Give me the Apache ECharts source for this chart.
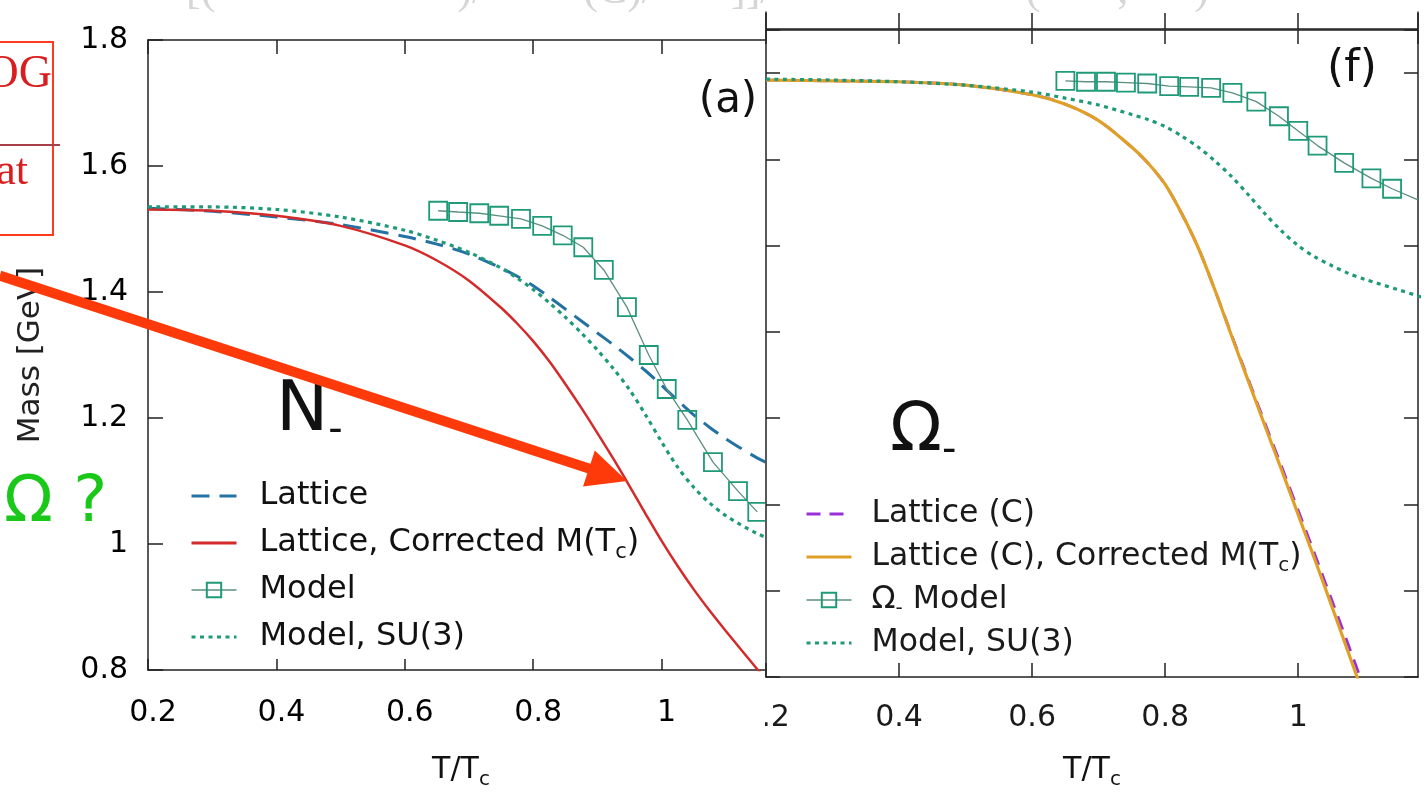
<!DOCTYPE html>
<html>
<head>
<meta charset="utf-8">
<title>N- and Omega- masses vs T/Tc</title>
<script src="https://cdn.jsdelivr.net/npm/echarts@6/dist/echarts.min.js"></script>
<style>
  html, body { margin: 0; padding: 0; background: #fff; }
  #main { width: 1428px; height: 795px; }
</style>
</head>
<body>
<div id="main"></div>
<script>
// T/Tc points used for the smooth curves
const tCurve = [0.2, 0.3, 0.4, 0.5, 0.6, 0.65, 0.7, 0.75, 0.775, 0.8, 0.825, 0.85, 0.875, 0.9, 0.925, 0.95, 0.975, 1.0, 1.025, 1.05, 1.075, 1.1, 1.15, 1.2]

// panel (a): N-
const nLattice     = [1.533, 1.528, 1.519, 1.507, 1.488, 1.476, 1.460, 1.438, 1.425, 1.410, 1.392, 1.373, 1.354, 1.335, 1.316, 1.296, 1.275, 1.252, 1.228, 1.205, 1.185, 1.167, 1.136, 1.112]
const nLatticeCorr = [1.531, 1.529, 1.521, 1.505, 1.474, 1.450, 1.418, 1.375, 1.350, 1.322, 1.290, 1.254, 1.216, 1.176, 1.135, 1.092, 1.048, 1.005, 0.965, 0.928, 0.894, 0.862, 0.800, 0.740]
const nModelSU3    = [1.535, 1.535, 1.531, 1.519, 1.498, 1.482, 1.463, 1.438, 1.422, 1.404, 1.383, 1.360, 1.335, 1.308, 1.278, 1.245, 1.205, 1.162, 1.122, 1.090, 1.065, 1.045, 1.016, 0.996]
const nModelT = [0.652, 0.683, 0.716, 0.747, 0.781, 0.814, 0.846, 0.878, 0.910, 0.946, 0.980, 1.008, 1.040, 1.080, 1.119, 1.149]
const nModelM = [1.529, 1.527, 1.525, 1.521, 1.516, 1.505, 1.490, 1.471, 1.435, 1.376, 1.300, 1.246, 1.197, 1.130, 1.084, 1.051]

// panel (f): Omega-
const omLattice     = [1.692, 1.691, 1.690, 1.686, 1.675, 1.664, 1.645, 1.614, 1.595, 1.571, 1.537, 1.497, 1.448, 1.396, 1.345, 1.294, 1.244, 1.193, 1.142, 1.090, 1.038, 0.985, 0.876, 0.766]
const omLatticeCorr = [1.692, 1.691, 1.690, 1.686, 1.675, 1.664, 1.645, 1.614, 1.595, 1.571, 1.537, 1.497, 1.448, 1.395, 1.343, 1.291, 1.240, 1.188, 1.136, 1.083, 1.029, 0.975, 0.865, 0.755]
const omModelSU3    = [1.693, 1.692, 1.690, 1.686, 1.678, 1.671, 1.663, 1.652, 1.646, 1.638, 1.627, 1.614, 1.598, 1.580, 1.559, 1.537, 1.517, 1.500, 1.487, 1.477, 1.468, 1.461, 1.449, 1.437]
const omModelT = [0.650, 0.681, 0.711, 0.741, 0.773, 0.806, 0.836, 0.869, 0.901, 0.937, 0.971, 1.000, 1.029, 1.069, 1.110, 1.141]
const omModelM = [1.691, 1.690, 1.690, 1.689, 1.688, 1.685, 1.684, 1.683, 1.677, 1.667, 1.650, 1.633, 1.616, 1.596, 1.578, 1.566]
const omModelTail = [1.18, 1.553]

const FONT = 'DejaVu Sans'
const pair = (xs, ys) => xs.map((x, i) => [x, ys[i]])

// legend texts (with subscripts)
const legendText = {
  'Lattice, Corrected M(Tc)': 'Lattice, Corrected M(T{s|c})',
  'Lattice (C), Corrected M(Tc)': 'Lattice (C), Corrected M(T{s|c})',
  'Omega Model': 'Ω{s|-} Model',
  'Model, SU(3) [Omega]': 'Model, SU(3)'
}

const chart = echarts.init(document.getElementById('main'))

function axis(o) {
  return Object.assign({
    type: 'value',
    splitLine: { show: false },
    axisLine: { show: true, onZero: false, lineStyle: { color: '#222', width: 1.5 } },
    axisTick: { show: true, inside: true, length: 14, lineStyle: { color: '#222', width: 1.5 } },
    axisLabel: { show: false },
    axisPointer: { show: false }
  }, o)
}
const tickLabel = { show: true, fontSize: 30, fontFamily: FONT, color: '#000', margin: 28 }
const nameStyle = {
  fontSize: 30, fontFamily: FONT, color: '#111', lineHeight: 40,
  rich: { s: { fontSize: 20, fontFamily: FONT, color: '#111', lineHeight: 22, verticalAlign: 'bottom' } }
}

// curves without markers: hide the legend marker, keep the legend line
const curve = (name, xi, yi, data, color, width, type, zl) => ({
  name, type: 'line', xAxisIndex: xi, yAxisIndex: yi, data,
  smooth: 0.3, symbol: 'none', silent: true,
  lineStyle: { color, width, type },
  itemStyle: { color, opacity: 0 },
  zlevel: zl, z: 3
})

const options = {
  animation: false,
  grid: [
    { left: 148, top: 40, width: 642, height: 630, outerBoundsMode: 'none' },
    { left: 766, top: 30, width: 652, height: 647, outerBoundsMode: 'none' },
    // bottom edge of the panel above (f)
    { left: 766, top: 12, width: 652, height: 17, outerBoundsMode: 'none' }
  ],
  xAxis: [
    axis({ gridIndex: 0, position: 'bottom', min: 0.2, max: 1.2, interval: 0.2,
      axisTick: { show: true, inside: true, length: 11, lineStyle: { color: '#222', width: 1.5 } },
      axisLabel: Object.assign({}, tickLabel, { padding: [0, 0, 0, 10] }),
      name: 'T/T{s|c}', nameLocation: 'middle', nameGap: 80,
      nameTextStyle: Object.assign({}, nameStyle, { padding: [0, 16, 0, 0] }) }),
    axis({ gridIndex: 0, position: 'top', min: 0.2, max: 1.2, interval: 0.2 }),
    axis({ gridIndex: 1, position: 'bottom', min: 0.2, max: 1.18, interval: 0.2,
      axisLabel: Object.assign({}, tickLabel, { color: '#1a1a1a', margin: 26, showMaxLabel: false }),
      name: 'T/T{s|c}', nameLocation: 'middle', nameGap: 73, nameTextStyle: nameStyle,
      zlevel: 1, z: 2 }),
    axis({ gridIndex: 1, position: 'top', min: 0.2, max: 1.18, interval: 0.2, zlevel: 1, z: 2 }),
    axis({ gridIndex: 2, position: 'bottom', min: 0.2, max: 1.18, interval: 0.2,
      axisTick: { show: true, inside: true, length: 16, lineStyle: { color: '#222', width: 1.5 } },
      zlevel: 1, z: 2 })
  ],
  yAxis: [
    axis({ gridIndex: 0, position: 'left', min: 0.8, max: 1.8, interval: 0.2,
      axisTick: { show: true, inside: true, length: 15, lineStyle: { color: '#222', width: 1.5 } },
      axisLabel: Object.assign({}, tickLabel, { margin: 20 }),
      name: 'Mass [GeV]', nameLocation: 'middle', nameGap: 102,
      nameTextStyle: { fontSize: 31, fontFamily: FONT, color: '#222' } }),
    axis({ gridIndex: 1, position: 'left', min: 1.0, max: 1.75, interval: 0.1, zlevel: 1, z: 2 }),
    axis({ gridIndex: 1, position: 'right', min: 1.0, max: 1.75, interval: 0.1, zlevel: 1, z: 2 }),
    axis({ gridIndex: 2, position: 'left', min: 0, max: 1, axisTick: { show: false }, zlevel: 1, z: 2 }),
    axis({ gridIndex: 2, position: 'right', min: 0, max: 1, axisTick: { show: false }, zlevel: 1, z: 2 })
  ],
  legend: [
    {
      data: [
        { name: 'Lattice', lineStyle: { width: 3 } },
        { name: 'Lattice, Corrected M(Tc)', lineStyle: { width: 3 } },
        { name: 'Model', lineStyle: { width: 1.5 } },
        { name: 'Model, SU(3)', lineStyle: { width: 3 } }
      ],
      orient: 'vertical', left: 190, top: 476, padding: 0,
      itemWidth: 45, itemHeight: 18, itemGap: 7, selectedMode: false,
      formatter: name => legendText[name] || name,
      textStyle: {
        fontSize: 32, fontFamily: FONT, color: '#111', lineHeight: 40, padding: [0, 0, 0, 18],
        rich: { s: { fontSize: 21, fontFamily: FONT, color: '#111', lineHeight: 22, verticalAlign: 'bottom' } }
      }
    },
    {
      data: [
        { name: 'Lattice (C)', lineStyle: { width: 3 } },
        { name: 'Lattice (C), Corrected M(Tc)', lineStyle: { width: 3 } },
        { name: 'Omega Model', lineStyle: { width: 1.5 } },
        { name: 'Model, SU(3) [Omega]', lineStyle: { width: 3 } }
      ],
      orient: 'vertical', left: 805, top: 495, padding: 0,
      itemWidth: 45, itemHeight: 18, itemGap: 5, selectedMode: false,
      zlevel: 1, z: 6,
      formatter: name => legendText[name] || name,
      textStyle: {
        fontSize: 31.5, fontFamily: FONT, color: '#1a1a1a', lineHeight: 38, padding: [0, 0, 0, 15],
        rich: { s: { fontSize: 20, fontFamily: FONT, color: '#1a1a1a', lineHeight: 21, verticalAlign: 'bottom' } }
      }
    }
  ],
  series: [
    // (a)
    curve('Lattice', 0, 0, pair(tCurve, nLattice), '#2471a3', 3, [18, 10], 0),
    curve('Lattice, Corrected M(Tc)', 0, 0, pair(tCurve, nLatticeCorr), '#d42a2a', 2.5, 'solid', 0),
    {
      name: 'Model', type: 'line', xAxisIndex: 0, yAxisIndex: 0,
      data: pair(nModelT, nModelM), symbol: 'rect', symbolSize: 18, silent: true,
      lineStyle: { color: '#5b8f80', width: 1.3 },
      itemStyle: { color: 'rgba(255,255,255,0)', borderColor: '#1f9a78', borderWidth: 1.8 },
      z: 4
    },
    curve('Model, SU(3)', 0, 0, pair(tCurve, nModelSU3), '#1f9a78', 3.2, [4, 4.5], 0),
    // (f)
    curve('Lattice (C)', 2, 1, pair(tCurve, omLattice), '#9b30d9', 2.8, [14, 9], 1),
    curve('Lattice (C), Corrected M(Tc)', 2, 1, pair(tCurve, omLatticeCorr), '#e0a028', 3.2, 'solid', 1),
    {
      name: 'Omega Model', type: 'line', xAxisIndex: 2, yAxisIndex: 1,
      data: pair(omModelT, omModelM).concat([{ value: omModelTail, symbol: 'none' }]),
      symbol: 'rect', symbolSize: 18, silent: true,
      lineStyle: { color: '#5b8f80', width: 1.3 },
      itemStyle: { color: 'rgba(255,255,255,0)', borderColor: '#1f9a78', borderWidth: 1.8 },
      zlevel: 1, z: 4
    },
    curve('Model, SU(3) [Omega]', 2, 1, pair(tCurve, omModelSU3), '#1f9a78', 3.2, [4, 4.5], 1)
  ],
  graphic: {
    elements: [
      // panel (f) is pasted over the right part of panel (a)
      { id: 'fBack', type: 'rect', shape: { x: 765, y: 12, width: 663, height: 783 },
        style: { fill: '#fff' }, zlevel: 1, z: 0, silent: true },
      { id: 'fCut', type: 'rect', shape: { x: 730, y: 686, width: 35, height: 52 },
        style: { fill: '#fff' }, zlevel: 2, z: 0, silent: true },
      // faint cut-off formula at the very top
      { id: 'topText', type: 'text', x: 186, y: -31, silent: true,
        style: { text: '[(                      )/         (C)/       ]]/                       (       ,      )', fontSize: 44, fontFamily: 'Liberation Serif', fill: '#d6d6d6' } },
      // panel labels
      { id: 'labA', type: 'text', x: 728, y: 101, zlevel: 0, z: 10, silent: true,
        style: { text: '(a)', fontSize: 42, fontFamily: FONT, fill: '#111', align: 'center', verticalAlign: 'middle' } },
      { id: 'labF', type: 'text', x: 1352, y: 70, zlevel: 1, z: 10, silent: true,
        style: { text: '(f)', fontSize: 44, fontFamily: FONT, fill: '#111', align: 'center', verticalAlign: 'middle' } },
      { id: 'labN', type: 'text', x: 276, y: 412, zlevel: 0, z: 10, silent: true,
        style: { text: 'N{s|-}', fontSize: 70, fontFamily: FONT, fill: '#111', lineHeight: 80, verticalAlign: 'middle',
          rich: { s: { fontSize: 40, fontFamily: FONT, fill: '#111', lineHeight: 52, verticalAlign: 'bottom' } } } },
      { id: 'labOm', type: 'text', x: 890, y: 432, zlevel: 1, z: 10, silent: true,
        style: { text: 'Ω{s|-}', fontSize: 68, fontFamily: FONT, fill: '#111', lineHeight: 80, verticalAlign: 'middle',
          rich: { s: { fontSize: 40, fontFamily: FONT, fill: '#111', lineHeight: 52, verticalAlign: 'bottom' } } } },
      // green question mark
      { id: 'omQ', type: 'text', x: 4, y: 504, z: 10, silent: true,
        style: { text: 'Ω ?', fontSize: 64, fontFamily: FONT, fill: '#19c819', verticalAlign: 'middle' } },
      // red box at the top left
      { id: 'box', type: 'rect', shape: { x: -3, y: 42, width: 56, height: 193 }, z: 10, silent: true,
        style: { fill: 'none', stroke: '#ff3b1f', lineWidth: 2 } },
      { id: 'boxLine', type: 'line', shape: { x1: 0, y1: 145, x2: 60, y2: 145 }, z: 10, silent: true,
        style: { stroke: '#a8404a', lineWidth: 2 } },
      { id: 'boxT1', type: 'text', x: 52, y: 75, z: 10, silent: true,
        style: { text: 'OG', fontSize: 46, fontFamily: 'Liberation Serif', fill: '#d81e1e', align: 'right', verticalAlign: 'middle' } },
      { id: 'boxT2', type: 'text', x: 28, y: 172, z: 10, silent: true,
        style: { text: 'at', fontSize: 44, fontFamily: 'Liberation Serif', fill: '#d81e1e', align: 'right', verticalAlign: 'middle' } }
    ]
  }
}

options && chart.setOption(options)

// red arrow pointing at the corrected lattice curve (in panel (a) data units)
const arrowStart = [-0.031, 1.426]
const arrowTip = [0.946, 1.10]
const p0 = chart.convertToPixel({ gridIndex: 0 }, arrowStart)
const p1 = chart.convertToPixel({ gridIndex: 0 }, arrowTip)
const dx = p1[0] - p0[0], dy = p1[1] - p0[1]
const len = Math.sqrt(dx * dx + dy * dy)
const ux = dx / len, uy = dy / len
const headLen = 40, headHalf = 19
const bx = p1[0] - ux * headLen, by = p1[1] - uy * headLen
chart.setOption({
  graphic: {
    elements: [
      { id: 'arrowLine', type: 'line', z: 20, silent: true,
        shape: { x1: p0[0], y1: p0[1], x2: bx + ux * 4, y2: by + uy * 4 },
        style: { stroke: '#ff3a0a', lineWidth: 10 } },
      { id: 'arrowHead', type: 'polygon', z: 20, silent: true,
        shape: { points: [[p1[0], p1[1]], [bx - uy * headHalf, by + ux * headHalf], [bx + uy * headHalf, by - ux * headHalf]] },
        style: { fill: '#ff3a0a' } }
    ]
  }
})
</script>
</body>
</html>
